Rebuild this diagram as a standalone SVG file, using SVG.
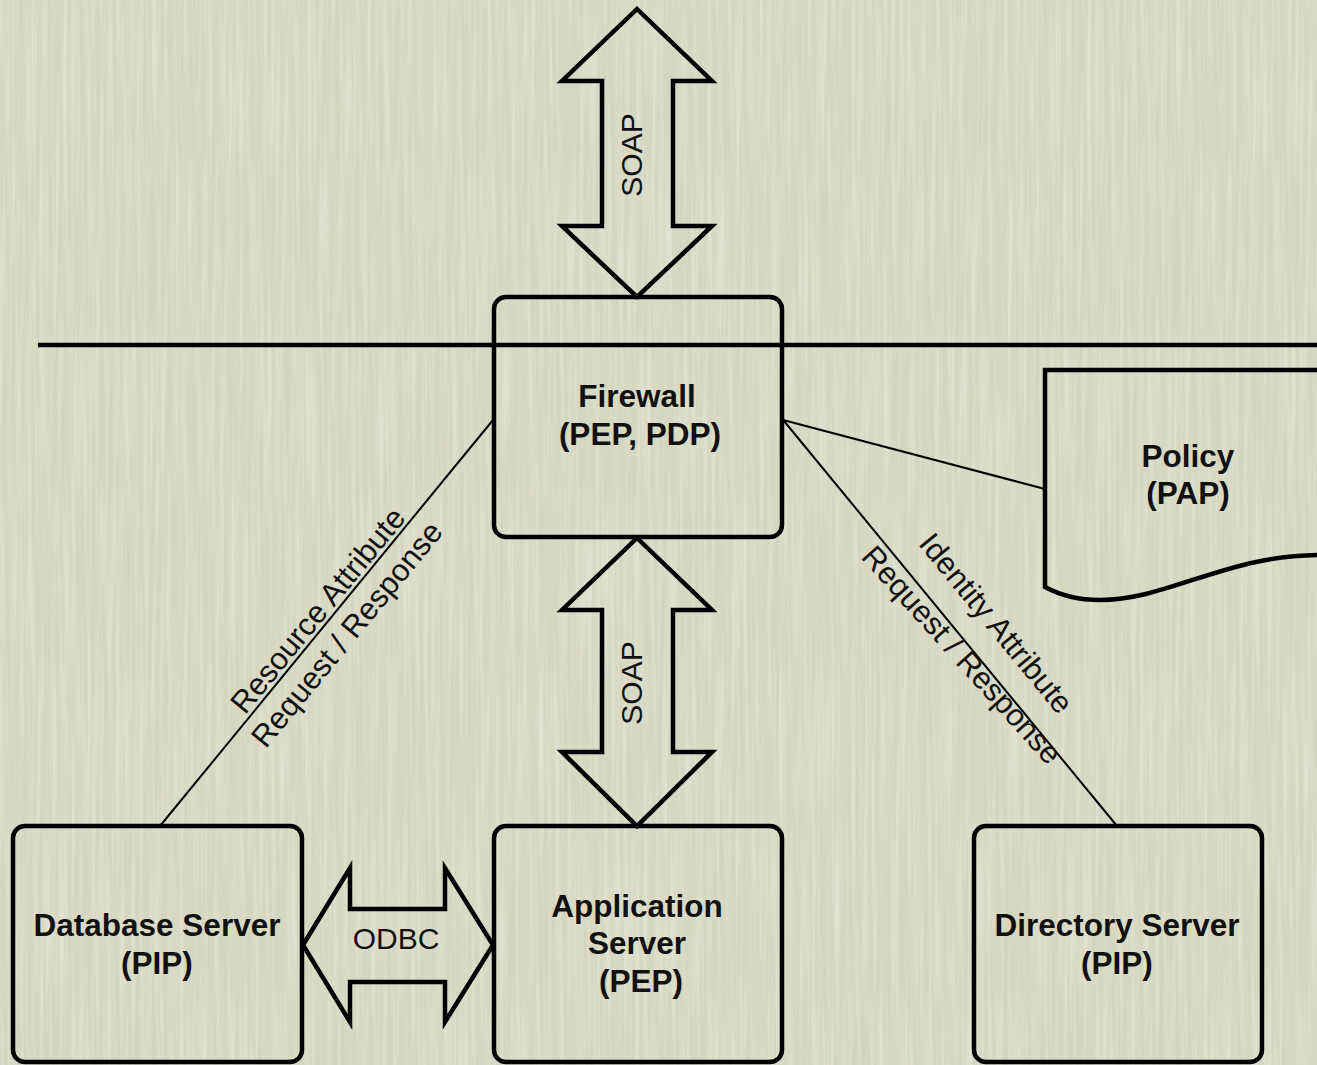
<svg xmlns="http://www.w3.org/2000/svg" width="1317" height="1065" viewBox="0 0 1317 1065">
  <defs>
    <!-- vertical-grain paper texture -->
    <filter id="grain" x="0" y="0" width="100%" height="100%" filterUnits="userSpaceOnUse">
      <feTurbulence type="fractalNoise" baseFrequency="0.25 0.006" numOctaves="3" seed="7"/>
      <feColorMatrix type="matrix" values="0 0 0 0 1  0 0 0 0 1  0 0 0 0 0.95  1.6 0 0 0 -0.6"/>
    </filter>
    <filter id="grainDark" x="0" y="0" width="100%" height="100%" filterUnits="userSpaceOnUse">
      <feTurbulence type="fractalNoise" baseFrequency="0.3 0.008" numOctaves="2" seed="19"/>
      <feColorMatrix type="matrix" values="0 0 0 0 0.6  0 0 0 0 0.6  0 0 0 0 0.5  -1.6 0 0 0 0.75"/>
    </filter>
    <style>
      .node { fill: none; stroke: #000; stroke-width: 4.5; }
      .block { fill: none; stroke: #000; stroke-width: 4.5; stroke-linejoin: miter; stroke-miterlimit: 10; }
      .wire { fill: none; stroke: #000; stroke-width: 2; }
      .rule { fill: none; stroke: #000; stroke-width: 4.5; }
      .title { font-family: "Liberation Sans", Arial, Helvetica, sans-serif; font-weight: bold; font-size: 31.5px; fill: #111; text-anchor: middle; }
      .lbl { font-family: "Liberation Sans", Arial, Helvetica, sans-serif; font-size: 30px; fill: #111; text-anchor: middle; }
      .dlbl { font-family: "Liberation Sans", Arial, Helvetica, sans-serif; font-size: 31px; fill: #111; text-anchor: middle; }
    </style>
  </defs>

  <!-- background paper -->
  <rect x="0" y="0" width="1317" height="1065" fill="#d5d7c0"/>
  <rect x="0" y="0" width="1317" height="1065" filter="url(#grain)" opacity="0.4"/>
  <rect x="0" y="0" width="1317" height="1065" filter="url(#grainDark)" opacity="0.15"/>

  <!-- network boundary -->
  <line class="rule" x1="38" y1="345" x2="1317" y2="345"/>

  <g id="connectors">
    <line class="wire" x1="493" y1="420" x2="160" y2="826"/>
    <line class="wire" x1="784" y1="421" x2="1117" y2="826"/>
    <line class="wire" x1="783" y1="420" x2="1045" y2="489"/>

    <g id="soap-external">
      <polygon class="block" points="637,9 712,81 673,81 673,226 712,226 637,297 562,226 602,226 602,81 562,81"/>
      <text class="lbl" transform="translate(642,155) rotate(-90)">SOAP</text>
    </g>
    <g id="soap-internal">
      <polygon class="block" points="637,538 712,610 673,610 673,752 712,752 637,826 562,752 602,752 602,610 562,610"/>
      <text class="lbl" transform="translate(642,683) rotate(-90)">SOAP</text>
    </g>
    <g id="odbc">
      <polygon class="block" points="303,945 350,868 350,909 445,909 445,868 493,945 445,1022 445,982 350,982 350,1022"/>
      <text class="lbl" x="396" y="949">ODBC</text>
    </g>

    <g id="resource-label">
      <text class="dlbl" transform="translate(326,617) rotate(-50.6)">Resource Attribute</text>
      <text class="dlbl" transform="translate(355,641) rotate(-50.6)">Request / Response</text>
    </g>
    <g id="identity-label">
      <text class="dlbl" transform="translate(988,630) rotate(50.6)">Identity Attribute</text>
      <text class="dlbl" transform="translate(954,662) rotate(48)">Request / Response</text>
    </g>
  </g>

  <g id="firewall">
    <rect class="node" x="494" y="297" width="288" height="240" rx="12"/>
    <text class="title" x="637" y="407">Firewall</text>
    <text class="title" x="640" y="445">(PEP, PDP)</text>
  </g>

  <g id="policy">
    <path class="node" d="M1045,370 H1330 V555 C1230,552 1170,600 1100,600 C1075,600 1058,594 1045,587 Z"/>
    <text class="title" x="1188" y="467">Policy</text>
    <text class="title" x="1188" y="504">(PAP)</text>
  </g>

  <g id="database-server">
    <rect class="node" x="13" y="826" width="289" height="236" rx="12"/>
    <text class="title" x="157" y="936">Database Server</text>
    <text class="title" x="157" y="974">(PIP)</text>
  </g>

  <g id="application-server">
    <rect class="node" x="494" y="826" width="288" height="236" rx="12"/>
    <text class="title" x="637" y="917">Application</text>
    <text class="title" x="637" y="954">Server</text>
    <text class="title" x="641" y="992">(PEP)</text>
  </g>

  <g id="directory-server">
    <rect class="node" x="974" y="826" width="288" height="236" rx="12"/>
    <text class="title" x="1117" y="936">Directory Server</text>
    <text class="title" x="1117" y="974">(PIP)</text>
  </g>
</svg>
